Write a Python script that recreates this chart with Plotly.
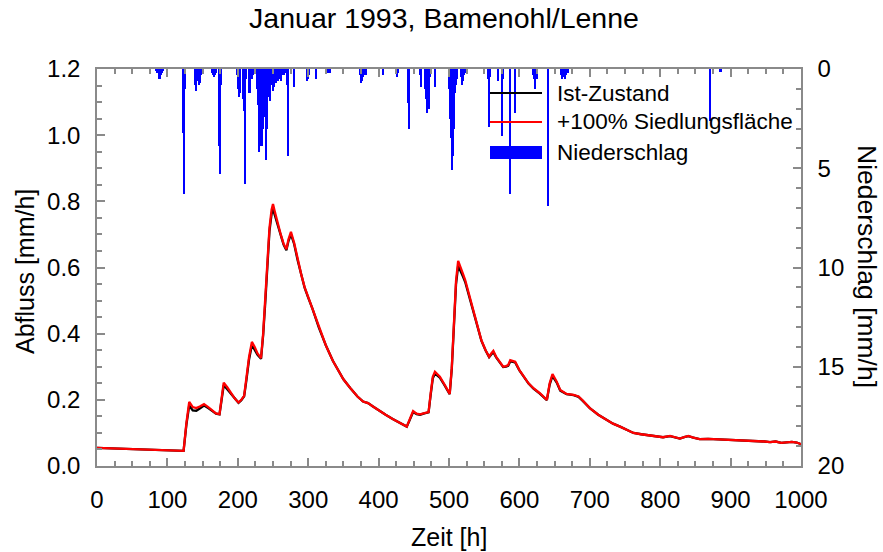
import plotly.graph_objects as go

# ---------------- data ----------------
time_h = [0, 30, 60, 90, 120, 123, 127, 131, 136, 141, 146, 152, 158, 164, 169, 174, 177, 180, 185, 190,
          196, 201, 205, 209, 212, 216, 220, 224, 228, 233, 236, 239, 242, 245, 248, 250, 253, 257, 261, 265,
          269, 272, 275.5, 280, 285, 290, 295, 300, 306, 315, 325, 335, 345, 350, 360, 370, 378, 385, 392, 400,
          410, 420, 430, 440, 444, 449, 454, 459, 465, 471, 474, 477, 480, 487, 494, 501, 504, 507, 510, 513,
          516, 520, 523, 529, 535, 541, 546, 552, 557, 560, 563, 567, 570, 577, 581, 584, 587, 591, 594, 600,
          606, 613, 620, 629, 639, 643, 647, 653, 658, 667, 677, 684, 690, 700, 712, 724, 733, 743, 752, 762,
          773, 785, 795, 804, 814, 821, 828, 834, 840, 847, 856, 868, 880, 890, 900, 912, 925, 938, 948, 956,
          964, 972, 980, 987, 994, 1000]

abfluss_plus100 = [0.055, 0.053, 0.051, 0.049, 0.047, 0.046, 0.130, 0.194, 0.178, 0.175, 0.180, 0.187, 0.178, 0.166, 0.159, 0.157, 0.200, 0.252, 0.238, 0.222,
                   0.203, 0.192, 0.200, 0.212, 0.260, 0.330, 0.375, 0.360, 0.340, 0.326, 0.400, 0.500, 0.620, 0.720, 0.775, 0.792, 0.765, 0.730, 0.700, 0.672,
                   0.655, 0.685, 0.708, 0.675, 0.625, 0.580, 0.540, 0.510, 0.477, 0.420, 0.365, 0.318, 0.278, 0.262, 0.235, 0.210, 0.195, 0.190, 0.180, 0.168,
                   0.155, 0.142, 0.130, 0.119, 0.140, 0.166, 0.158, 0.156, 0.160, 0.163, 0.220, 0.270, 0.285, 0.270, 0.245, 0.218, 0.300, 0.450, 0.560, 0.620,
                   0.605, 0.580, 0.562, 0.515, 0.470, 0.420, 0.380, 0.350, 0.330, 0.340, 0.348, 0.330, 0.320, 0.300, 0.302, 0.305, 0.320, 0.318, 0.315, 0.290,
                   0.270, 0.250, 0.235, 0.220, 0.200, 0.250, 0.278, 0.255, 0.230, 0.218, 0.215, 0.210, 0.198, 0.175, 0.155, 0.139, 0.128, 0.119, 0.110, 0.100,
                   0.096, 0.092, 0.089, 0.087, 0.091, 0.087, 0.083, 0.087, 0.091, 0.086, 0.081, 0.082, 0.081, 0.080, 0.080, 0.077, 0.078, 0.076, 0.074, 0.072,
                   0.074, 0.070, 0.071, 0.073, 0.071, 0.066]

abfluss_ist = [0.055, 0.053, 0.051, 0.049, 0.047, 0.046, 0.125, 0.183, 0.168, 0.167, 0.174, 0.183, 0.175, 0.165, 0.158, 0.156, 0.196, 0.244, 0.232, 0.219,
               0.201, 0.191, 0.199, 0.211, 0.256, 0.322, 0.366, 0.352, 0.336, 0.324, 0.395, 0.494, 0.612, 0.710, 0.762, 0.776, 0.755, 0.724, 0.696, 0.669,
               0.652, 0.680, 0.700, 0.671, 0.622, 0.578, 0.538, 0.509, 0.476, 0.419, 0.365, 0.318, 0.278, 0.262, 0.235, 0.210, 0.195, 0.190, 0.180, 0.168,
               0.155, 0.142, 0.130, 0.119, 0.138, 0.163, 0.157, 0.155, 0.159, 0.162, 0.216, 0.265, 0.279, 0.267, 0.243, 0.217, 0.295, 0.443, 0.550, 0.605,
               0.592, 0.572, 0.556, 0.511, 0.467, 0.418, 0.379, 0.349, 0.329, 0.337, 0.344, 0.328, 0.319, 0.299, 0.300, 0.303, 0.316, 0.315, 0.313, 0.289,
               0.269, 0.249, 0.234, 0.219, 0.199, 0.246, 0.272, 0.252, 0.228, 0.217, 0.214, 0.209, 0.197, 0.175, 0.155, 0.139, 0.128, 0.119, 0.110, 0.100,
               0.096, 0.092, 0.089, 0.087, 0.090, 0.087, 0.083, 0.087, 0.090, 0.086, 0.081, 0.082, 0.081, 0.080, 0.080, 0.077, 0.078, 0.076, 0.074, 0.072,
               0.074, 0.070, 0.071, 0.073, 0.071, 0.066]

regen_h = [84, 86, 88, 89, 90, 91, 93, 94,
           123, 124, 125,
           139, 140, 141, 142, 143, 144, 145, 146, 147, 148, 149,
           164, 165, 166, 167, 168, 169,
           173, 174, 175, 176,
           199, 200, 201, 202, 203, 204,
           208, 209, 210, 211, 212,
           216, 217, 218, 219, 220, 221, 222,
           228, 229, 230, 231, 232, 233, 234, 235, 236, 237, 238, 239, 240, 241, 242, 243, 244, 245, 246, 247,
           248, 249, 250, 251, 252, 253, 254, 255, 256, 257, 258, 259, 260, 261, 262, 263, 264, 266, 268, 270, 271, 272,
           280, 298, 299, 300, 301, 311, 325, 328, 331,
           374, 375, 376, 377, 378, 379, 380, 382, 383,
           406, 407, 425, 426, 427, 428,
           442, 443, 444, 459, 460, 461,
           466, 467, 468, 469, 470, 471, 472, 473, 480,
           500, 501, 502, 503, 504, 505, 506, 507, 508, 509, 510, 511, 512,
           518, 519, 520, 521, 523,
           556, 557, 558, 570, 575, 576, 577, 587, 594,
           620, 621, 622, 623, 624, 625, 626, 641,
           660, 661, 662, 664, 665, 666, 668, 670,
           871, 886]

regen_mm = [0.1, 0.2, 0.3, 0.5, 0.5, 0.3, 0.2, 0.1,
            3.2, 6.3, 1.0,
            0.5, 0.8, 1.1, 0.6, 0.4, 0.6, 0.8, 0.7, 0.5, 0.3, 0.2,
            0.2, 0.3, 0.4, 0.4, 0.3, 0.2,
            0.5, 3.9, 5.3, 0.8,
            0.3, 0.8, 1.0, 1.4, 1.2, 0.6,
            1.5, 2.1, 5.8, 2.0, 0.5,
            0.4, 1.2, 1.0, 0.5, 0.3, 0.5, 0.3,
            1.0, 1.8, 1.2, 4.2, 2.5, 3.8, 3.9, 2.0, 3.0, 2.4, 1.5, 2.0, 3.2, 4.6, 3.0, 1.4, 1.1, 0.9, 1.6, 0.7,
            0.6, 0.8, 1.1, 0.7, 0.9, 0.6, 0.5, 0.7, 0.4, 0.6, 0.5, 0.3, 0.5, 0.4, 0.6, 0.3, 0.2, 0.3, 0.2, 0.8, 4.4, 0.3,
            0.9, 0.3, 0.6, 0.5, 0.3, 0.5, 0.2, 0.2, 0.2,
            0.3, 0.5, 0.7, 0.6, 0.4, 0.3, 0.2, 0.3, 0.2,
            0.2, 0.3, 0.2, 0.4, 0.3, 0.2,
            1.7, 3.0, 0.5, 0.3, 0.9, 0.3,
            0.5, 1.0, 1.5, 2.2, 1.2, 0.8, 2.0, 0.4, 0.9,
            0.3, 1.0, 2.5, 3.5, 4.6, 5.1, 4.4, 3.0, 2.0, 1.2, 0.8, 0.5, 0.3,
            0.4, 0.8, 0.6, 0.3, 0.2,
            0.5, 2.9, 0.4, 0.6, 2.0, 3.4, 0.5, 6.3, 2.2,
            0.3, 0.5, 1.0, 0.6, 0.4, 0.5, 0.3, 6.9,
            0.3, 0.5, 0.4, 0.3, 0.5, 0.3, 0.2, 0.2,
            2.6, 0.15]

x_ticks = [0, 100, 200, 300, 400, 500, 600, 700, 800, 900, 1000]
y_ticks = [0.0, 0.2, 0.4, 0.6, 0.8, 1.0, 1.2]
y2_ticks = [0, 5, 10, 15, 20]

legend_labels = ["Ist-Zustand", "+100% Siedlungsfläche", "Niederschlag"]

# ---------------- figure ----------------
FONT = "Liberation Sans, Arial, Helvetica, sans-serif"
AX = "#8a8a8a"
W, H = 883, 552
L, R, T, B = 97, 82, 69, 86
PW, PH = W - L - R, H - T - B

fig = go.Figure()

fig.add_trace(go.Bar(x=regen_h, y=regen_mm, yaxis="y2", width=2.2,
                     marker=dict(color="#0000ff", line=dict(width=0)),
                     name=legend_labels[2], showlegend=False))
fig.add_trace(go.Scatter(x=time_h, y=abfluss_ist, mode="lines",
                         line=dict(color="black", width=2.3), name=legend_labels[0], showlegend=False))
fig.add_trace(go.Scatter(x=time_h, y=abfluss_plus100, mode="lines",
                         line=dict(color="#ff0000", width=2.3), name=legend_labels[1], showlegend=False))

fig.update_layout(
    width=W, height=H,
    margin=dict(l=L, r=R, t=T, b=B, pad=0),
    paper_bgcolor="white", plot_bgcolor="white",
    font=dict(family=FONT, size=24, color="black"),
    showlegend=False,
    bargap=0,
    title=dict(text="Januar 1993, Bamenohl/Lenne", font=dict(family=FONT, size=28.5, color="black"),
               xref="container", yref="container", x=444 / W, y=1 - 18 / H,
               xanchor="center", yanchor="middle"),
    xaxis=dict(range=[0, 1000], tickvals=x_ticks, ticks="inside", ticklen=8, tickwidth=1.5, tickcolor=AX,
               showline=True, linecolor=AX, linewidth=1.5, mirror="ticks", showgrid=False, zeroline=False,
               ticklabelstandoff=11, tickfont=dict(size=24),
               minor=dict(dtick=25, ticks="inside", ticklen=5, tickwidth=1.5, tickcolor=AX, showgrid=False)),
    yaxis=dict(range=[0, 1.2], tickvals=y_ticks, tickformat=".1f", ticks="inside", ticklen=8, tickwidth=1.5,
               tickcolor=AX, showline=True, linecolor=AX, linewidth=1.5, showgrid=False, zeroline=False,
               ticklabelstandoff=10, tickfont=dict(size=24),
               minor=dict(dtick=0.05, ticks="inside", ticklen=5, tickwidth=1.5, tickcolor=AX, showgrid=False)),
    yaxis2=dict(range=[20, 0], overlaying="y", side="right", tickvals=y2_ticks, ticks="inside", ticklen=8,
                tickwidth=1.5, tickcolor=AX, showline=True, linecolor=AX, linewidth=1.5, showgrid=False,
                zeroline=False, ticklabelstandoff=10, tickfont=dict(size=24),
                minor=dict(dtick=1, ticks="inside", ticklen=5, tickwidth=1.5, tickcolor=AX, showgrid=False)),
)

def px_x(p):
    return (p - L) / PW

def px_y(p):
    return (H - B - p) / PH

# axis titles
fig.add_annotation(text="Zeit [h]", xref="paper", yref="paper", x=px_x(449), y=px_y(537),
                   showarrow=False, font=dict(size=25), xanchor="center", yanchor="middle")
fig.add_annotation(text="Abfluss [mm/h]", xref="paper", yref="paper", x=px_x(25), y=px_y(272),
                   showarrow=False, font=dict(size=25), textangle=-90, xanchor="center", yanchor="middle")
fig.add_annotation(text="Niederschlag [mm/h]", xref="paper", yref="paper", x=px_x(867), y=px_y(266),
                   showarrow=False, font=dict(size=26.5), textangle=90, xanchor="center", yanchor="middle")

# legend (drawn manually)
rows = [93, 122, 152]
fig.add_shape(type="line", xref="paper", yref="paper", x0=px_x(490), x1=px_x(542), y0=px_y(rows[0]), y1=px_y(rows[0]),
              line=dict(color="black", width=2))
fig.add_shape(type="line", xref="paper", yref="paper", x0=px_x(490), x1=px_x(542), y0=px_y(rows[1]), y1=px_y(rows[1]),
              line=dict(color="#ff0000", width=2))
fig.add_shape(type="rect", xref="paper", yref="paper", x0=px_x(490), x1=px_x(542), y0=px_y(159), y1=px_y(146),
              line=dict(width=0), fillcolor="#0000ff")
for lab, r in zip(legend_labels, rows):
    fig.add_annotation(text=lab, xref="paper", yref="paper", x=px_x(555), y=px_y(r),
                       showarrow=False, font=dict(size=22.5), xanchor="left", yanchor="middle")

fig.write_html("out.html")
